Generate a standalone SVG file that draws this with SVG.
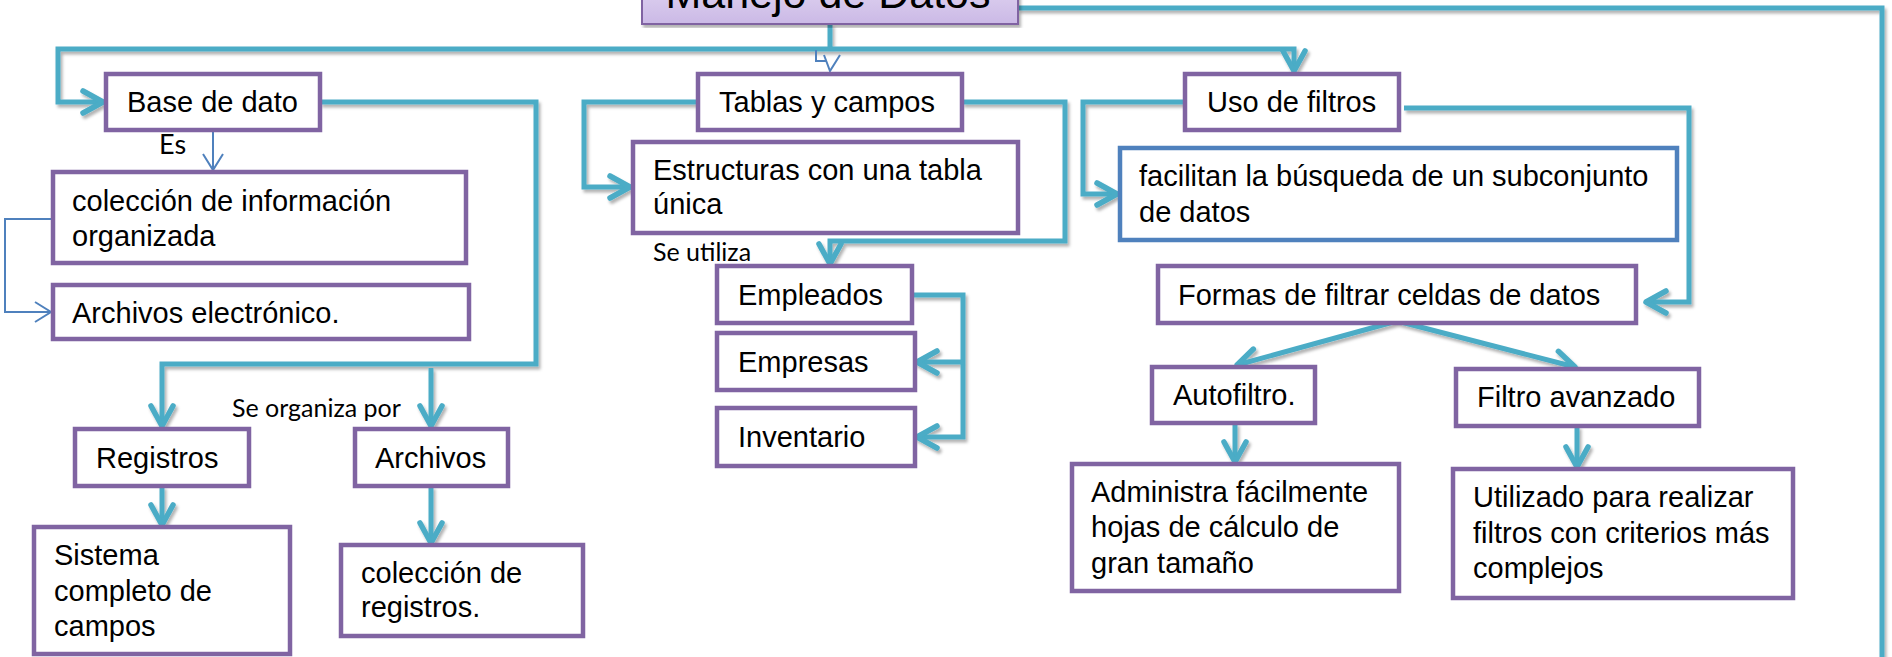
<svg xmlns="http://www.w3.org/2000/svg" width="1892" height="657" viewBox="0 0 1892 657">
<style>
.box{fill:#ffffff;stroke:#8064a2;stroke-width:4.5}
.bbox{fill:#ffffff;stroke:#4f81bd;stroke-width:4.5}
.t{font-family:"Liberation Sans",Arial,sans-serif;font-size:29px;fill:#000}
.lbl{font-family:Lato,"Open Sans",sans-serif;font-size:25px;fill:#000}
.c{fill:none;stroke:#4bacc6;stroke-width:5;stroke-linejoin:miter}
.cb{fill:none;stroke:#4f81bd;stroke-width:2}
</style>
<defs>
<linearGradient id="tg" x1="0" y1="0" x2="0" y2="1">
<stop offset="0" stop-color="#ece4f7"/>
<stop offset="1" stop-color="#cbb9e6"/>
</linearGradient>
<filter id="sh" x="-5%" y="-5%" width="110%" height="110%">
<feDropShadow dx="2" dy="3" stdDeviation="1.5" flood-color="#000" flood-opacity="0.3"/>
</filter>
<marker id="arr" markerUnits="userSpaceOnUse" viewBox="-24 -15 30 30" refX="0" refY="0" markerWidth="30" markerHeight="30" orient="auto" overflow="visible">
<path d="M -20,-11 L 0,0 L -20,11" fill="none" stroke="#4bacc6" stroke-width="5.5" stroke-linecap="round" stroke-linejoin="round"/>
</marker>
<marker id="arrb" markerUnits="userSpaceOnUse" viewBox="-20 -12 24 24" refX="0" refY="0" markerWidth="24" markerHeight="24" orient="auto" overflow="visible">
<path d="M -16,-10 L 0,0 L -16,10" fill="none" stroke="#4f81bd" stroke-width="2"/>
</marker>
</defs>
<rect width="1892" height="657" fill="#ffffff"/>

<g id="connectors">
<g filter="url(#sh)">
<path class="c" d="M 830,24 L 830,49"/>
<path class="c" d="M 830,49 L 58,49 L 58,102 L 103,102" marker-end="url(#arr)"/>
<path class="c" d="M 830,49 L 1294,49 L 1294,71" marker-end="url(#arr)"/>
<path class="c" d="M 320,102 L 536,102 L 536,364 L 162,364 L 162,426" marker-end="url(#arr)"/>
<path class="c" d="M 431,368 L 431,426" marker-end="url(#arr)"/>
<path class="c" d="M 162,486 L 162,525" marker-end="url(#arr)"/>
<path class="c" d="M 431,486 L 431,543" marker-end="url(#arr)"/>
<path class="c" d="M 698,102 L 584,102 L 584,187 L 630,187" marker-end="url(#arr)"/>
<path class="c" d="M 962,102 L 1065,102 L 1065,241 L 830,241 L 830,264" marker-end="url(#arr)"/>
<path class="c" d="M 912,295 L 963,295 L 963,437 L 917,437" marker-end="url(#arr)"/>
<path class="c" d="M 963,362 L 917,362" marker-end="url(#arr)"/>
<path class="c" d="M 1185,102 L 1083,102 L 1083,194 L 1117,194" marker-end="url(#arr)"/>
<path class="c" d="M 1404,108 L 1689,108 L 1689,302 L 1646,302" marker-end="url(#arr)"/>
<path class="c" d="M 1397,321 L 1237,365" marker-end="url(#arr)"/>
<path class="c" d="M 1397,321 L 1575,367" marker-end="url(#arr)"/>
<path class="c" d="M 1235,423 L 1235,462" marker-end="url(#arr)"/>
<path class="c" d="M 1577,426 L 1577,467" marker-end="url(#arr)"/>
<path class="c" d="M 1018,8 L 1882,8 L 1882,662"/>
</g>
<path class="cb" d="M 213,131 L 213,170" marker-end="url(#arrb)"/>
<path class="cb" d="M 53,219 L 5,219 L 5,312 L 51,312" marker-end="url(#arrb)"/>
<path class="cb" d="M 816,50 L 816,61 L 826,61"/>
<path class="cb" d="M 824,55 L 830,71 L 840,55"/>
</g>

<g id="title">
<rect x="642" y="-40" width="376" height="64" fill="url(#tg)" stroke="#8064a2" stroke-width="2" filter="url(#sh)"/>
<text x="828" y="8" text-anchor="middle" style="font-family:'Liberation Sans',Arial,sans-serif;font-size:43px;fill:#000">Manejo de Datos</text>
</g>

<g id="base-de-dato">
<rect class="box" x="106" y="74" width="214" height="56"/>
<text class="t" x="127" y="112">Base de dato</text>
</g>
<g id="lbl-es"><text class="lbl" x="159" y="154" style="font-size:27px">Es</text></g>
<g id="coleccion-info">
<rect class="box" x="53" y="172" width="413" height="91"/>
<text class="t" x="72" y="211">colección de información<tspan x="72" y="246">organizada</tspan></text>
</g>
<g id="archivos-electronico">
<rect class="box" x="53" y="285" width="416" height="54"/>
<text class="t" x="72" y="323">Archivos electrónico.</text>
</g>
<g id="lbl-organiza"><text class="lbl" x="232" y="417">Se organiza por</text></g>
<g id="registros">
<rect class="box" x="75" y="429" width="174" height="57"/>
<text class="t" x="96" y="468">Registros</text>
</g>
<g id="sistema">
<rect class="box" x="34" y="527" width="256" height="127"/>
<text class="t" x="54" y="565">Sistema<tspan x="54" y="601">completo de</tspan><tspan x="54" y="636">campos</tspan></text>
</g>
<g id="archivos">
<rect class="box" x="355" y="429" width="153" height="57"/>
<text class="t" x="375" y="468">Archivos</text>
</g>
<g id="coleccion-registros">
<rect class="box" x="341" y="545" width="242" height="91"/>
<text class="t" x="361" y="583">colección de<tspan x="361" y="617">registros.</tspan></text>
</g>

<g id="tablas">
<rect class="box" x="698" y="74" width="264" height="56"/>
<text class="t" x="719" y="112">Tablas y campos</text>
</g>
<g id="estructuras">
<rect class="box" x="633" y="142" width="385" height="91"/>
<text class="t" x="653" y="180">Estructuras con una tabla<tspan x="653" y="214">única</tspan></text>
</g>
<g id="lbl-utiliza"><text class="lbl" x="653" y="261">Se utiliza</text></g>
<g id="empleados">
<rect class="box" x="717" y="266" width="195" height="57"/>
<text class="t" x="738" y="305">Empleados</text>
</g>
<g id="empresas">
<rect class="box" x="717" y="333" width="198" height="57"/>
<text class="t" x="738" y="372">Empresas</text>
</g>
<g id="inventario">
<rect class="box" x="717" y="408" width="198" height="58"/>
<text class="t" x="738" y="447">Inventario</text>
</g>

<g id="uso-filtros">
<rect class="box" x="1185" y="74" width="214" height="56"/>
<text class="t" x="1207" y="112">Uso de filtros</text>
</g>
<g id="facilitan">
<rect class="bbox" x="1120" y="148" width="557" height="92"/>
<text class="t" x="1139" y="186">facilitan la búsqueda de un subconjunto<tspan x="1139" y="222">de datos</tspan></text>
</g>
<g id="formas">
<rect class="box" x="1158" y="266" width="478" height="57"/>
<text class="t" x="1178" y="305">Formas de filtrar celdas de datos</text>
</g>
<g id="autofiltro">
<rect class="box" x="1152" y="367" width="163" height="56"/>
<text class="t" x="1173" y="405">Autofiltro.</text>
</g>
<g id="administra">
<rect class="box" x="1072" y="464" width="327" height="127"/>
<text class="t" x="1091" y="502">Administra fácilmente<tspan x="1091" y="537">hojas de cálculo de</tspan><tspan x="1091" y="573">gran tamaño</tspan></text>
</g>
<g id="filtro-avanzado">
<rect class="box" x="1456" y="369" width="243" height="57"/>
<text class="t" x="1477" y="407">Filtro avanzado</text>
</g>
<g id="utilizado">
<rect class="box" x="1453" y="469" width="340" height="129"/>
<text class="t" x="1473" y="507">Utilizado para realizar<tspan x="1473" y="543">filtros con criterios más</tspan><tspan x="1473" y="578">complejos</tspan></text>
</g>
</svg>
